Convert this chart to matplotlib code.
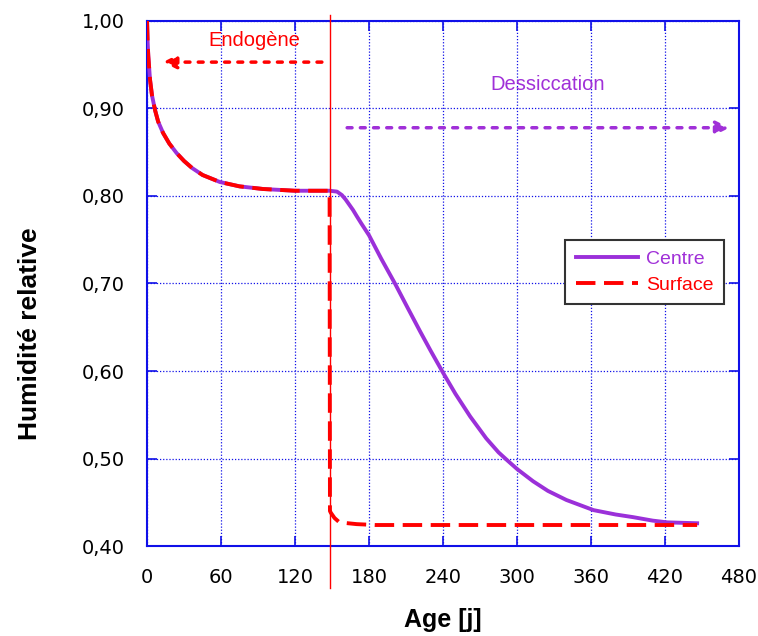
import matplotlib
matplotlib.use("Agg")
import matplotlib.pyplot as plt
from matplotlib.ticker import FuncFormatter

plt.rcParams['font.family'] = ['Liberation Sans', 'DejaVu Sans']

# data
t_centre = [0, 0.5, 1, 2.4, 4, 6.5, 9, 13, 18, 24, 30, 36.5, 45, 59, 75, 94, 120, 148,
            154, 158, 161, 164, 167, 170, 174, 180, 190, 201, 211, 221.5, 230, 240,
            250, 262, 275, 285, 292, 300, 313, 325, 340, 362, 380, 394, 410, 422, 446]
centre = [1.00, 0.975, 0.96, 0.933, 0.915, 0.898, 0.885, 0.872, 0.86, 0.849, 0.84,
          0.832, 0.824, 0.816, 0.811, 0.808, 0.806, 0.806,
          0.805, 0.801, 0.796, 0.790, 0.784, 0.777, 0.768, 0.755, 0.728, 0.70,
          0.673, 0.645, 0.623, 0.598, 0.574, 0.548, 0.523, 0.507, 0.498, 0.488,
          0.474, 0.463, 0.4526, 0.441, 0.436, 0.433, 0.429, 0.427, 0.426]

t_surface = [0, 0.5, 1, 2.4, 4, 6.5, 9, 13, 18, 24, 30, 36.5, 45, 59, 75, 94, 120, 148,
             148.3, 149, 150, 152, 156, 170, 185, 446]
surface = [1.00, 0.975, 0.96, 0.933, 0.915, 0.898, 0.885, 0.872, 0.86, 0.849, 0.84,
           0.832, 0.824, 0.816, 0.811, 0.808, 0.806, 0.806,
           0.44, 0.438, 0.436, 0.432, 0.427, 0.425, 0.424, 0.424]

t_switch = 148
xticks = [0, 60, 120, 180, 240, 300, 360, 420, 480]
yticks = [0.40, 0.50, 0.60, 0.70, 0.80, 0.90, 1.00]

purple = '#9b30d9'
purple_txt = '#a030d8'
red = '#ff0000'
blue = '#1010e8'

fig = plt.figure(figsize=(7.58, 6.36), dpi=100)
ax = fig.add_axes([0.194, 0.1415, 0.781, 0.8255])

ax.plot(t_centre, centre, color=purple, lw=2.8, label='Centre', zorder=3)
ax.plot(t_surface, surface, color=red, lw=2.8, dashes=(5, 2.2), label='Surface', zorder=4)

# vertical separation line, running past the frame
ax.plot([t_switch, t_switch], [1.007, 0.352], color=red, lw=1, clip_on=False, zorder=5)

ax.annotate('', xy=(10.5, 0.953), xytext=(t_switch - 4, 0.953),
            arrowprops=dict(arrowstyle='-|>', color=red, lw=2.5, linestyle=(0, (1.4, 2.4)),
                            mutation_scale=20))
ax.text(87, 0.978, 'Endogène', color=red, fontsize=14.5, ha='center', va='center')

ax.annotate('', xy=(474.5, 0.878), xytext=(160, 0.878),
            arrowprops=dict(arrowstyle='-|>', color=purple_txt, lw=2.5,
                            linestyle=(0, (1.4, 2.4)), mutation_scale=20))
ax.text(325, 0.927, 'Dessiccation', color=purple_txt, fontsize=14.5, ha='center', va='center')

ax.set_xlim(0, 480)
ax.set_ylim(0.40, 1.00)
ax.set_xticks(xticks)
ax.set_yticks(yticks)
ax.yaxis.set_major_formatter(FuncFormatter(lambda v, p: ('%.2f' % v).replace('.', ',')))
ax.tick_params(direction='in', color=blue, length=7, width=1.2, labelsize=14,
               top=True, right=True)
ax.tick_params(axis='y', pad=16)
ax.tick_params(axis='x', pad=16)
for lab in ax.get_xticklabels() + ax.get_yticklabels():
    lab.set_family('DejaVu Sans')
for s in ax.spines.values():
    s.set_color(blue)
    s.set_linewidth(1.5)
ax.grid(True, color=blue, linestyle=(0, (1, 1.5)), lw=0.9)

ax.set_xlabel('Age [j]', fontsize=18, fontweight='bold')
ax.xaxis.set_label_coords(0.5, -0.118)
ax.set_ylabel('Humidité relative', fontsize=19, fontweight='bold', va='center')
ax.yaxis.set_label_coords(-0.198, 0.405)

leg = ax.legend(loc='upper left', bbox_to_anchor=(0.706, 0.583), borderaxespad=0,
                fontsize=14, frameon=True, fancybox=False, edgecolor='#333333',
                framealpha=1, handlelength=3.2, handletextpad=0.4, borderpad=0.55,
                labelspacing=0.4)
leg.get_frame().set_linewidth(1.5)
for txt, c in zip(leg.get_texts(), [purple_txt, red]):
    txt.set_color(c)

fig.savefig('out.png', dpi=100)
